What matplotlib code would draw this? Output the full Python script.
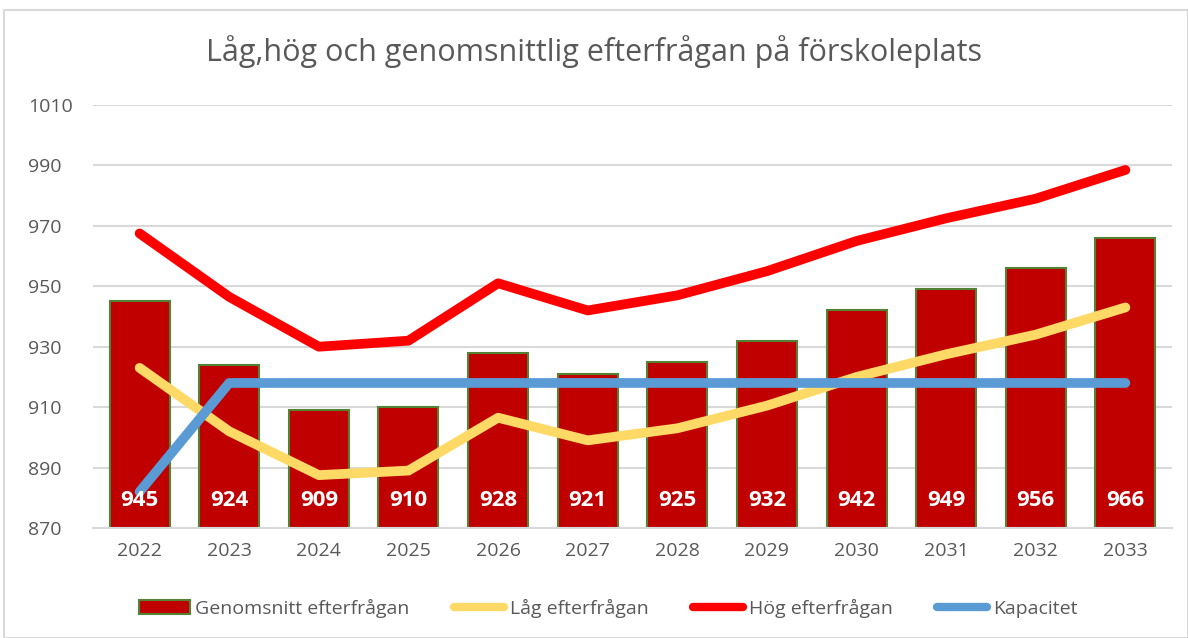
import matplotlib
matplotlib.use("Agg")
import matplotlib.pyplot as plt
from matplotlib.patches import Rectangle, Patch
from matplotlib.lines import Line2D

years = ["2022", "2023", "2024", "2025", "2026", "2027", "2028", "2029", "2030", "2031", "2032", "2033"]
genomsnitt = [945, 924, 909, 910, 928, 921, 925, 932, 942, 949, 956, 966]
lag = [923, 902, 887.5, 889, 906.5, 899, 903, 910.5, 920, 927.5, 934, 943]
hog = [967.5, 946.5, 930, 932, 951, 942, 947, 955, 965, 972.5, 979, 988.5]
kapacitet = [882, 918, 918, 918, 918, 918, 918, 918, 918, 918, 918, 918]
yticks = [870, 890, 910, 930, 950, 970, 990, 1010]

plt.rcParams['font.family'] = ['Open Sans', 'DejaVu Sans']
grey = '#595959'

fig = plt.figure(figsize=(11.88, 6.38), dpi=100)
fig.patches.append(Rectangle((4/1188, 0), 1 - 4/1188, 1 - 10/638, transform=fig.transFigure,
                             fill=False, edgecolor='#d9d9d9', linewidth=1.5))
ax = fig.add_axes([93/1188, 110/638, (1172-93)/1188, (528-105)/638])

x = list(range(len(years)))
ax.bar(x, [g - 870 for g in genomsnitt], bottom=870, width=0.67, color='#c00000',
       edgecolor='#548235', linewidth=1.5, zorder=2)
for xi, v in zip(x, genomsnitt):
    ax.text(xi, 879, str(v), ha='center', va='center', color='white', fontsize=16,
            fontweight='bold', zorder=6)

ax.plot(x, lag, color='#ffd966', linewidth=7, solid_capstyle='round', solid_joinstyle='round', zorder=3)
ax.plot(x, hog, color='#ff0000', linewidth=7, solid_capstyle='round', solid_joinstyle='round', zorder=4)
ax.plot(x, kapacitet, color='#5b9bd5', linewidth=7, solid_capstyle='round', solid_joinstyle='round', zorder=5)

ax.set_ylim(870, 1010)
ax.set_xlim(-0.52, len(years) - 0.48)
ax.set_yticks(yticks)
ax.set_xticks(x)
ax.set_xticklabels(years)
ax.tick_params(axis='both', length=0, labelsize=14, colors=grey)
ax.tick_params(axis='x', pad=10)
for lab in ax.get_yticklabels():
    lab.set_horizontalalignment('left')
ax.yaxis.set_tick_params(pad=47)
ax.grid(axis='y', color='#d9d9d9', linewidth=1.5, zorder=0)
ax.set_axisbelow(True)
for s in ['top', 'right', 'left']:
    ax.spines[s].set_visible(False)
ax.spines['bottom'].set_color('#d9d9d9')
ax.spines['bottom'].set_linewidth(1.5)

fig.text(0.5, 1 - 52/638, "Låg,hög och genomsnittlig efterfrågan på förskoleplats",
         ha='center', va='center', fontsize=22, color=grey)

handles = [Patch(facecolor='#c00000', edgecolor='#548235', linewidth=1.5),
           Line2D([], [], color='#ffd966', linewidth=6, solid_capstyle='round'),
           Line2D([], [], color='#ff0000', linewidth=6, solid_capstyle='round'),
           Line2D([], [], color='#5b9bd5', linewidth=6, solid_capstyle='round')]
labels = ["Genomsnitt efterfrågan", "Låg efterfrågan", "Hög efterfrågan", "Kapacitet"]
leg = fig.legend(handles, labels, loc='center', bbox_to_anchor=(0.512, 1 - 608/638), ncol=4,
                 frameon=False, fontsize=14, handlelength=2.6, handletextpad=0.3,
                 columnspacing=2.25)
for t in leg.get_texts():
    t.set_color(grey)

fig.savefig("out.png", dpi=100)
